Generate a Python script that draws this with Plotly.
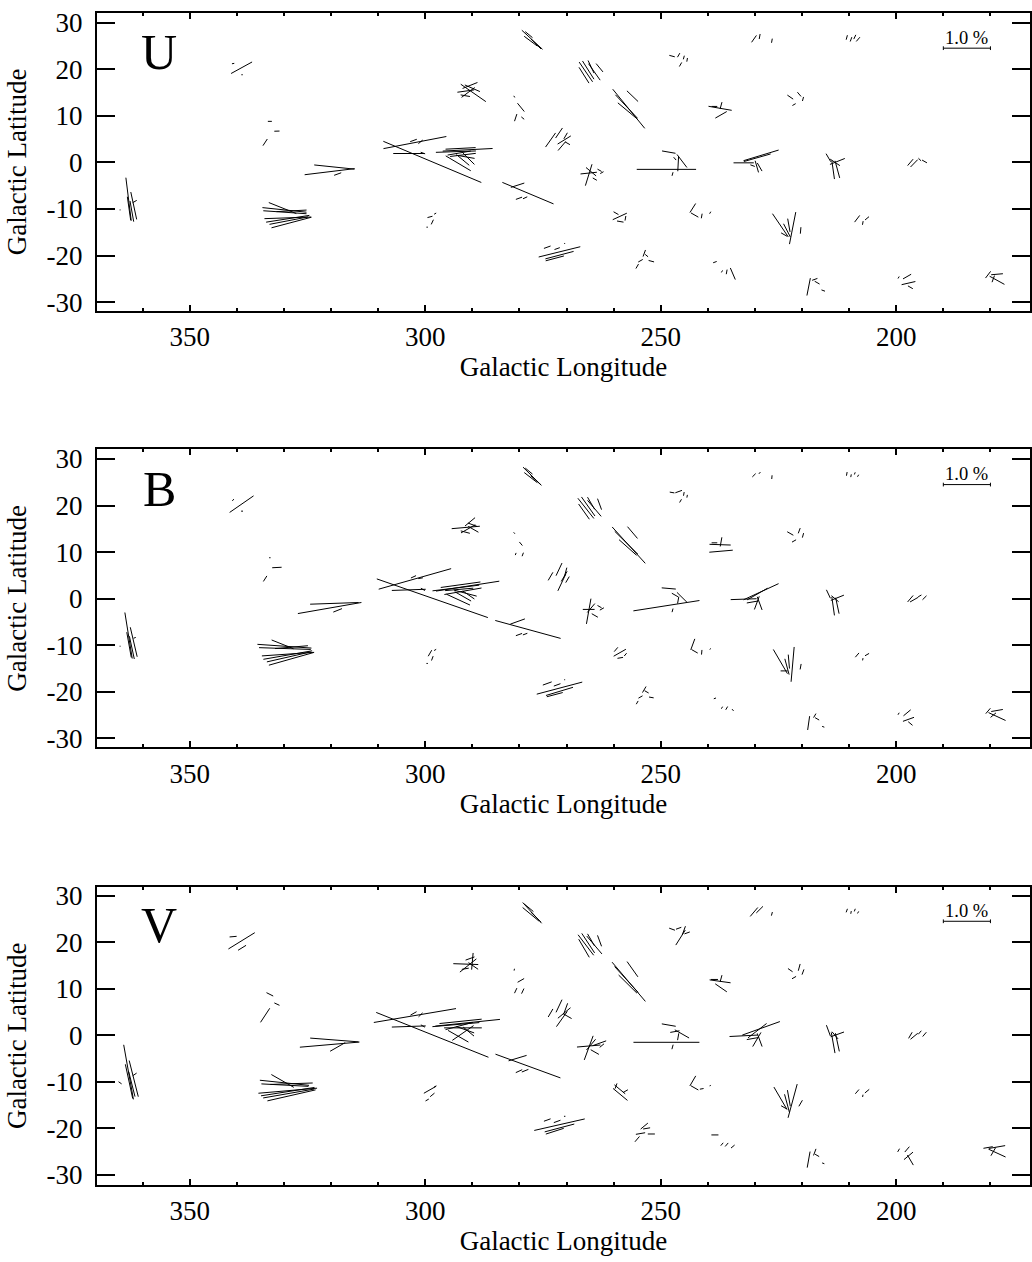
import math
import plotly.graph_objects as go

# ---------------- data ----------------
# star positions (galactic longitude / latitude, degrees)
L = [339.0, 340.8, 338.9,
     333.0, 331.5, 334.0,
     363.0, 362.9, 361.9, 362.3, 361.7, 364.8,
     320.3, 319.3, 318.6,
     330.3, 329.9, 329.8, 329.2, 329.2, 328.4, 329.0, 328.4,
     298.5, 302.2, 303.5, 302.5, 301.0, 300.5,
     278.2, 280.4, 280.1, 278.8,
     289.8, 291.4, 290.5, 290.9, 290.0, 291.5,
     279.7, 280.8, 281.1, 279.3,
     273.4, 271.6, 270.5, 271.0, 270.2, 269.8,
     277.3, 277.6, 276.5, 278.0,
     265.9, 265.4, 266.3, 264.1, 263.0, 264.8,
     256.8, 257.3, 257.0, 256.0,
     247.6, 246.2, 245.8, 245.1, 244.4,
     293.5, 291.0, 292.5, 292.0, 293.0, 292.0, 291.5, 292.8, 290.8,
     265.3, 265.3, 264.8, 263.0, 262.5, 264.0,
     248.8, 248.3, 245.5, 246.3, 247.0, 247.5,
     299.0, 298.5, 297.9, 299.6,
     271.5, 271.5, 272.5, 274.1, 272.0, 270.4,
     253.5, 254.3, 255.0, 252.0, 253.0,
     258.7, 259.5, 258.6, 257.5,
     243.2, 242.8, 241.3, 239.5,
     230.2, 229.0, 226.4,
     210.5, 209.6, 208.8, 208.1,
     237.4, 237.2, 237.2, 238.6,
     222.5, 220.6, 221.7, 219.8,
     232.4, 228.7, 229.5, 229.6, 229.0, 230.5,
     213.4, 212.5, 212.5, 214.4, 213.0,
     197.0, 196.2, 195.0, 194.0,
     224.6, 222.0, 223.2, 222.8, 220.3, 223.8,
     208.3, 207.1, 206.2,
     238.5, 237.0, 236.0, 234.7,
     218.6, 217.3, 216.8, 215.5,
     197.4, 197.7, 197.0, 199.5,
     180.5, 178.6, 178.6, 179.4]

B = [20.3, 21.2, 18.8,
     8.8, 6.7, 4.3,
     -7.9, -9.9, -9.3, -10.5, -8.4, -10.2,
     -2.0, -1.0, -2.5,
     -9.8, -10.2, -10.7, -11.9, -12.1, -12.9, -12.5, -10.4,
     0.1, 4.25, 1.9, 4.7, 4.4, 2.0,
     -6.6, -4.9, -7.7, -7.6,
     14.9, 15.3, 16.5, 15.0, 15.9, 14.3,
     11.8, 9.6, 14.1, 9.5,
     4.8, 6.3, 4.8, 3.5, 5.7, 4.1,
     26.3, 26.0, 25.4, 27.4,
     19.4, 19.8, 18.7, 19.4, 20.3, 20.5,
     11.5, 12.0, 11.0, 14.2,
     22.8, 23.0, 21.0, 22.5, 22.0,
     2.3, 2.7, 3.0, 1.6, -0.2, 0.5, 1.2, 2.0, 0.8,
     -2.7, -2.3, -2.0, -1.7, -2.2, -3.6,
     -1.5, 2.2, 0.3, -0.3, 0.8, -2.5,
     -11.7, -12.8, -11.0, -13.9,
     -19.2, -19.9, -20.6, -18.2, -18.5, -17.4,
     -19.5, -21.1, -22.3, -21.2, -20.0,
     -11.6, -10.9, -12.7, -12.0,
     -9.8, -11.3, -11.5, -10.8,
     26.5, 27.0, 26.1,
     26.8, 26.4, 26.9, 26.4,
     11.6, 10.2, 12.2, 12.0,
     14.0, 14.6, 12.4, 13.6,
     -0.1, 1.5, 1.0, -0.9, -1.0, -0.7,
     -1.6, -1.5, 0.2, 1.0, 0.0,
     0.0, -0.2, 0.6, 0.2,
     -13.5, -14.1, -14.6, -13.5, -14.6, -15.5,
     -12.1, -13.0, -12.0,
     -21.4, -23.4, -23.5, -23.9,
     -26.7, -25.1, -25.8, -27.5,
     -25.9, -24.5, -26.8, -24.7,
     -24.1, -25.3, -24.0, -25.0]

# polarization (%) and position angle (deg) in each band
P_U = [0.51, 0.05, 0.03,
       0.085, 0.11, 0.17,
       0.93, 0.51, 0.60, 0.45, 0.10, 0.02,
       1.07, 0.86, 0.16,
       0.63, 0.94, 0.92, 0.99, 0.93, 0.88, 0.83, 0.64,
       2.26, 1.36, 0.66, 0.15, 0.12, 0.10,
       1.18, 0.30, 0.14, 0.10,
       0.65, 0.36, 0.34, 0.35, 0.35, 0.20,
       0.23, 0.16, 0.04, 0.08,
       0.37, 0.26, 0.33, 0.25, 0.15, 0.12,
       0.60, 0.35, 0.30, 0.20,
       0.51, 0.46, 0.40, 0.43, 0.23, 0.30,
       1.08, 0.68, 0.55, 0.33,
       0.12, 0.10, 0.10, 0.08, 0.08,
       0.85, 1.06, 0.64, 0.55, 0.62, 0.35, 0.40, 0.50, 0.35,
       0.48, 0.35, 0.28, 0.10, 0.08, 0.10,
       1.26, 0.29, 0.35, 0.32, 0.08, 0.08,
       0.11, 0.11, 0.05, 0.03,
       0.91, 0.62, 0.40, 0.15, 0.12, 0.02,
       0.15, 0.11, 0.11, 0.12, 0.08,
       0.33, 0.12, 0.14, 0.10,
       0.23, 0.18, 0.10, 0.05,
       0.18, 0.11, 0.09,
       0.10, 0.10, 0.10, 0.12,
       0.50, 0.28, 0.15, 0.12,
       0.15, 0.12, 0.08, 0.09,
       0.43, 0.78, 0.59, 0.26, 0.20, 0.10,
       0.40, 0.38, 0.34, 0.20, 0.25,
       0.18, 0.22, 0.08, 0.12,
       0.60, 0.70, 0.32, 0.29, 0.14, 0.15,
       0.18, 0.08, 0.11,
       0.08, 0.05, 0.10, 0.27,
       0.38, 0.12, 0.12, 0.08,
       0.30, 0.20, 0.12, 0.05,
       0.18, 0.36, 0.25, 0.15]
TH_U = [119, 100, 90,
        90, 92, 147,
        7, 8, 12, 10, 120, 90,
        97, 84, 110,
        68, 84, 86, 92, 99, 105, 101, 93,
        67, 101, 90, 110, 130, 70,
        67, 108, 110, 115,
        55, 98, 112, 127, 66, 80,
        39, 162, 30, 50,
        145, 146, 122, 140, 150, 60,
        47, 53, 45, 50,
        34, 32, 32, 35, 39, 25,
        39, 43, 50, 46,
        75, 150, 150, 165, 170,
        92, 93, 93, 97, 59, 50, 80, 100, 45,
        163, 96, 50, 60, 120, 60,
        90, 80, 37, 177, 40, 165,
        105, 155, 120, 90,
        104, 105, 105, 110, 110, 90,
        160, 120, 150, 75, 50,
        115, 60, 80, 170,
        148, 60, 170, 150,
        145, 170, 170,
        165, 160, 155, 140,
        80, 120, 165, 90,
        55, 40, 120, 165,
        90, 107, 106, 16, 30, 70,
        8, 15, 112, 30, 56,
        140, 136, 45, 60,
        34, 169, 27, 10, 175, 60,
        143, 170, 130,
        110, 150, 170, 23,
        169, 110, 60, 70,
        103, 120, 60, 150,
        143, 61, 95, 160]

P_B = [0.62, 0.05, 0.04,
       0.03, 0.20, 0.14,
       1.00, 0.55, 0.65, 0.50, 0.05, 0.02,
       1.37, 1.03, 0.20,
       0.50, 1.15, 1.10, 1.10, 1.05, 1.00, 0.95, 0.70,
       2.50, 1.60, 0.72, 0.12, 0.10, 0.10,
       1.44, 0.33, 0.14, 0.10,
       0.25, 0.60, 0.28, 0.35, 0.20, 0.20,
       0.10, 0.05, 0.04, 0.08,
       0.20, 0.30, 0.25, 0.40, 0.20, 0.15,
       0.55, 0.35, 0.30, 0.20,
       0.55, 0.50, 0.40, 0.45, 0.25, 0.30,
       1.05, 0.70, 0.50, 0.33,
       0.10, 0.15, 0.08, 0.08, 0.06,
       1.00, 1.36, 0.85, 0.80, 0.55, 0.40, 0.50, 0.60, 0.30,
       0.55, 0.25, 0.25, 0.10, 0.10, 0.15,
       1.42, 0.30, 0.30, 0.15, 0.15, 0.08,
       0.15, 0.10, 0.05, 0.03,
       1.00, 0.60, 0.35, 0.20, 0.15, 0.02,
       0.15, 0.10, 0.08, 0.10, 0.10,
       0.30, 0.12, 0.12, 0.08,
       0.25, 0.15, 0.10, 0.03,
       0.10, 0.05, 0.08,
       0.08, 0.06, 0.05, 0.05,
       0.45, 0.50, 0.20, 0.12,
       0.15, 0.12, 0.10, 0.10,
       0.55, 0.82, 0.50, 0.30, 0.30, 0.25,
       0.40, 0.35, 0.30, 0.20, 0.20,
       0.18, 0.20, 0.08, 0.12,
       0.60, 0.75, 0.35, 0.30, 0.12, 0.15,
       0.12, 0.05, 0.10,
       0.05, 0.05, 0.08, 0.05,
       0.30, 0.10, 0.10, 0.05,
       0.25, 0.20, 0.12, 0.05,
       0.15, 0.40, 0.25, 0.15]
TH_B = [125, 130, 90,
        90, 93, 148,
        9, 10, 13, 12, 110, 90,
        100, 92, 112,
        68, 86, 88, 94, 100, 106, 103, 95,
        70.6, 106, 92, 115, 100, 60,
        74.5, 110, 110, 110,
        60, 95, 130, 120, 70, 75,
        40, 160, 40, 160,
        150, 155, 150, 155, 165, 150,
        45, 52, 48, 50,
        38, 35, 35, 40, 20, 30,
        42, 45, 48, 40,
        80, 110, 150, 170, 170,
        97, 99, 98, 100, 65, 60, 75, 95, 55,
        170, 90, 140, 60, 120, 60,
        99, 85, 45, 170, 60, 165,
        150, 160, 120, 90,
        105, 107, 105, 110, 110, 90,
        150, 120, 150, 80, 60,
        120, 140, 100, 140,
        160, 60, 175, 150,
        135, 140, 175,
        170, 170, 160, 150,
        88, 95, 170, 90,
        60, 160, 120, 165,
        92, 115, 120, 160, 20, 100,
        8, 12, 112, 25, 50,
        140, 120, 120, 135,
        30, 175, 15, 5, 170, 90,
        140, 170, 120,
        110, 150, 150, 40,
        172, 150, 60, 70,
        110, 130, 50, 150,
        140, 65, 100, 130]

P_V = [0.66, 0.15, 0.20,
       0.16, 0.12, 0.36,
       1.19, 0.75, 0.80, 0.55, 0.10, 0.08,
       1.27, 1.03, 0.37,
       0.55, 1.05, 1.00, 1.25, 1.15, 1.05, 1.10, 0.90,
       2.57, 1.77, 0.72, 0.15, 0.12, 0.10,
       1.47, 0.40, 0.15, 0.15,
       0.25, 0.53, 0.20, 0.45, 0.36, 0.15,
       0.16, 0.12, 0.04, 0.12,
       0.20, 0.30, 0.35, 0.40, 0.25, 0.20,
       0.60, 0.45, 0.30, 0.25,
       0.55, 0.50, 0.45, 0.50, 0.25, 0.30,
       1.10, 0.75, 0.55, 0.40,
       0.13, 0.12, 0.38, 0.20, 0.12,
       1.00, 1.38, 0.90, 0.80, 0.50, 0.55, 0.40, 0.60, 0.30,
       0.55, 0.50, 0.30, 0.30, 0.12, 0.20,
       1.40, 0.30, 0.35, 0.15, 0.20, 0.10,
       0.30, 0.12, 0.06, 0.08,
       1.10, 0.65, 0.40, 0.15, 0.15, 0.03,
       0.20, 0.20, 0.15, 0.15, 0.15,
       0.30, 0.12, 0.40, 0.12,
       0.25, 0.18, 0.08, 0.03,
       0.25, 0.20, 0.08,
       0.08, 0.06, 0.06, 0.05,
       0.45, 0.30, 0.15, 0.15,
       0.12, 0.15, 0.10, 0.12,
       0.60, 0.85, 0.50, 0.35, 0.30, 0.25,
       0.45, 0.40, 0.30, 0.25, 0.20,
       0.15, 0.20, 0.10, 0.12,
       0.55, 0.75, 0.40, 0.35, 0.15, 0.15,
       0.12, 0.05, 0.12,
       0.15, 0.08, 0.10, 0.10,
       0.35, 0.15, 0.10, 0.05,
       0.25, 0.15, 0.25, 0.08,
       0.20, 0.40, 0.35, 0.20]
TH_V = [122, 95, 122,
        63, 65, 147,
        10, 12, 14, 14, 125, 55,
        95, 85.5, 120,
        60, 84, 87, 95, 99, 103, 100, 92,
        68, 99.7, 92, 120, 135, 60,
        69.7, 107, 115, 112,
        55, 88, 110, 129, 175, 100,
        120, 155, 170, 155,
        150, 155, 130, 145, 160, 60,
        42, 50, 45, 50,
        37, 33, 30, 40, 20, 30,
        40, 42, 45, 35,
        70, 110, 148, 160, 110,
        95, 96, 96, 90, 60, 125, 70, 105, 50,
        160, 95, 140, 110, 130, 60,
        90, 80, 60, 170, 100, 165,
        120, 130, 120, 120,
        103, 105, 108, 110, 110, 90,
        130, 100, 140, 90, 100,
        50, 160, 50, 120,
        150, 60, 100, 150,
        140, 135, 165,
        160, 170, 160, 150,
        82, 55, 165, 90,
        55, 165, 120, 160,
        93, 110, 128, 150, 20, 100,
        10, 12, 110, 20, 40,
        150, 130, 140, 140,
        30, 165, 15, 10, 150, 60,
        140, 170, 130,
        90, 140, 140, 130,
        170, 160, 60, 70,
        130, 140, 30, 150,
        100, 65, 100, 150]

BANDS = ["U", "B", "V"]
SCALE_P = 1.0          # % length of the reference bar
SCALE_L0 = 190.0       # left end of the reference bar (galactic l)
SCALE_B0 = 24.5        # latitude of the reference bar
DEG_PER_PCT = 10.0     # vector length: 1 % polarization = 10 degrees
X_TICKS = [350, 300, 250, 200]
Y_TICKS = [30, 20, 10, 0, -10, -20, -30]

# ---------------- figure ----------------
FONT = "Liberation Serif"
W, H = 1032, 1262
domains = [[0.75594, 0.99445], [0.40650, 0.64501], [0.05626, 0.29477]]
yranges = [[-31.85, 32.06], [-31.9, 32.06], [-32.1, 31.9]]
XRANGE = [369.7, 171.6]

fig = go.Figure()
series = [(P_U, TH_U), (P_B, TH_B), (P_V, TH_V)]

for k, (band, (P, TH)) in enumerate(zip(BANDS, series)):
    xa = "x" if k == 0 else f"x{k+1}"
    ya = "y" if k == 0 else f"y{k+1}"
    xs, ys = [], []
    for l, b, p, t in zip(L, B, P, TH):
        h = p * DEG_PER_PCT / 2.0
        dl = h * math.sin(math.radians(t))
        db = h * math.cos(math.radians(t))
        xs += [l + dl, l - dl, None]
        ys += [b + db, b - db, None]
    fig.add_trace(go.Scatter(x=xs, y=ys, mode="lines",
                             line=dict(color="black", width=1),
                             xaxis=xa, yaxis=ya, hoverinfo="skip",
                             showlegend=False))
    # reference bar
    x1 = SCALE_L0 - SCALE_P * DEG_PER_PCT
    cap = 0.4
    fig.add_trace(go.Scatter(
        x=[SCALE_L0, x1, None, SCALE_L0, SCALE_L0, None, x1, x1],
        y=[SCALE_B0, SCALE_B0, None, SCALE_B0 - cap, SCALE_B0 + cap, None,
           SCALE_B0 - cap, SCALE_B0 + cap],
        mode="lines", line=dict(color="black", width=1),
        xaxis=xa, yaxis=ya, hoverinfo="skip", showlegend=False))
    fig.add_annotation(x=(SCALE_L0 + x1) / 2, y=SCALE_B0 + 2.2, xref=xa, yref=ya,
                       text=f"{SCALE_P:.1f} %", showarrow=False,
                       font=dict(family=FONT, size=18.5, color="black"),
                       xanchor="center", yanchor="middle")
    fig.add_annotation(x=356.5, y=23.6, xref=xa, yref=ya, text=band,
                       showarrow=False,
                       font=dict(family=FONT, size=50, color="black"),
                       xanchor="center", yanchor="middle")

    axis_font = dict(family=FONT, size=27, color="black")
    xaxis = dict(domain=[0, 1], range=XRANGE, anchor=ya,
                 tickmode="array", tickvals=X_TICKS,
                 ticktext=[str(v) for v in X_TICKS],
                 ticks="inside", ticklen=6, tickwidth=1.5, tickcolor="black",
                 minor=dict(tickmode="linear", tick0=0, dtick=10, ticks="inside",
                            ticklen=3, tickwidth=1.5, tickcolor="black"),
                 showline=True, linewidth=2, linecolor="black", mirror="ticks",
                 showgrid=False, zeroline=False, tickfont=axis_font,
                 ticklabelstandoff=1,
                 title=dict(text="Galactic Longitude", font=axis_font, standoff=0))
    yaxis = dict(domain=domains[k], range=yranges[k], anchor=xa,
                 tickmode="array", tickvals=Y_TICKS,
                 ticktext=[str(v) for v in Y_TICKS],
                 ticks="inside", ticklen=18, tickwidth=1.5, tickcolor="black",
                 showline=True, linewidth=2, linecolor="black", mirror="ticks",
                 showgrid=False, zeroline=False, tickfont=axis_font,
                 ticklabelstandoff=7,
                 title=dict(text="Galactic Latitude", font=axis_font, standoff=12))
    key = "" if k == 0 else str(k + 1)
    fig.update_layout(**{f"xaxis{key}": xaxis, f"yaxis{key}": yaxis})

fig.update_layout(width=W, height=H, margin=dict(l=97, r=0, t=0, b=0),
                  plot_bgcolor="white", paper_bgcolor="white",
                  font=dict(family=FONT, color="black"))

fig.write_html("out.html")
